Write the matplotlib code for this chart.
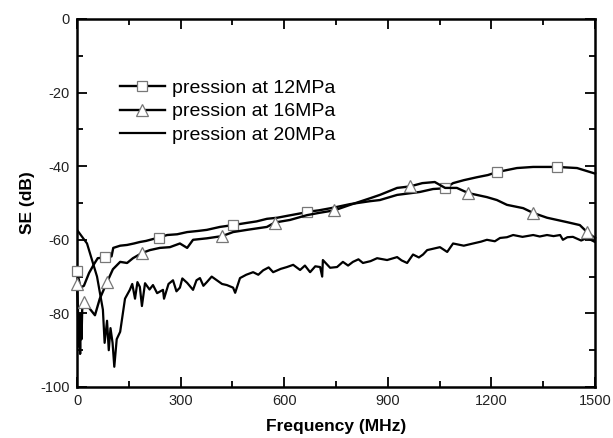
import numpy as np
import matplotlib
matplotlib.use("Agg")
import matplotlib.pyplot as plt
from matplotlib.ticker import MultipleLocator

plt.rcParams['font.family'] = ['Liberation Sans', 'DejaVu Sans']
plt.rcParams['axes.unicode_minus'] = False

# ---------------- data ----------------
freq_12 = [0, 10, 20, 35, 50, 60, 80, 100, 105, 125, 145, 165, 182, 200, 220, 237, 261, 290,
           319, 350, 376, 414, 452, 492, 520, 550, 580, 608, 654, 666, 700, 741, 791, 849,
           877, 927, 993, 1031, 1066, 1089, 1120, 1158, 1190, 1216, 1274, 1321, 1390, 1448,
           1500]
se_12 = [-68.5, -73, -72.5, -69, -66.5, -65, -64.8, -64.5, -62.2, -61.6, -61.4, -61.0,
         -60.6, -60.3, -59.8, -59.4, -58.7, -58.5, -57.9, -57.6, -57.3, -56.5, -56, -55.4,
         -55.0, -54.3, -54.0, -53.5, -52.7, -52.4, -52, -51.3, -50.3, -49.5, -49.2, -47.8,
         -47, -46.2, -46, -44.6, -43.8, -43, -42.4, -41.6, -40.5, -40.2, -40.2, -40.5, -42]
marks_12 = [0, 80, 237, 452, 666, 1066, 1216, 1390]

freq_16 = [0, 3, 5, 7, 9, 11, 13, 15, 20, 35, 52, 66, 87, 104, 125, 145, 162, 188, 211, 240,
           269, 298, 319, 336, 376, 420, 452, 492, 550, 573, 617, 666, 700, 745, 791, 849,
           877, 927, 964, 1000, 1036, 1066, 1100, 1133, 1187, 1216, 1245, 1292, 1321, 1361,
           1419, 1456, 1477, 1500]
se_16 = [-72, -80, -89, -81, -91, -80, -87, -79, -77, -78.5, -80.5, -76, -71.5, -68, -66,
         -66.3, -65, -63.6, -62.8, -62.2, -62, -61, -62.2, -60, -59.6, -59, -57.9, -57.3,
         -56.5, -55.3, -54.6, -53.3, -52.7, -52, -50.5, -48.7, -47.8, -45.9, -45.5, -44.6,
         -44.3, -45.9, -45.9, -47.3, -48.4, -49.2, -50.5, -51.4, -52.7, -54, -55.2, -56,
         -57.9, -59.5]
marks_16 = [0, 20, 87, 188, 420, 573, 745, 964, 1133, 1321, 1477]

freq_20 = [0, 29, 58, 75, 80, 87, 92, 97, 103, 108, 115, 125, 139, 153, 160, 168, 175, 182,
           188, 197, 210, 220, 232, 249, 252, 265, 278, 288, 298, 305, 319, 336, 346, 356,
           366, 376, 390, 405, 420, 434, 452, 458, 472, 490, 510, 525, 539, 555, 568, 590,
           608, 626, 646, 660, 675, 690, 704, 710, 712, 733, 753, 770, 785, 799, 815, 828,
           850, 869, 898, 927, 940, 956, 973, 990, 1002, 1014, 1051, 1072, 1089, 1120, 1147,
           1170, 1187, 1210, 1225, 1245, 1263, 1290, 1321, 1340, 1361, 1380, 1399, 1407,
           1420, 1436, 1460, 1477, 1500]
se_20 = [-57.3, -61, -70, -79, -88, -82, -90, -84, -88, -94.5, -87, -85, -76, -73.6, -72,
         -76, -71.5, -72.8, -78, -71.8, -73.5, -72.3, -74.5, -73.6, -76, -72, -71, -74,
         -73, -70.5, -71.7, -73.6, -71, -70.4, -72.5, -71.5, -70, -71, -72, -72.3, -73,
         -74.4, -70.4, -69.5, -68.8, -69.5, -68.3, -67.5, -68.8, -67.9, -67.4, -66.8, -68.2,
         -67, -68.8, -67.2, -67.4, -70, -65.5, -67.6, -67.4, -66, -67, -66, -65.3, -66.3,
         -65.8, -65, -65.5, -64.7, -65.6, -66.3, -64, -64.8, -64, -62.8, -62, -63.3, -61,
         -61.6, -61, -60.5, -60, -60.4, -59.5, -59.3, -58.7, -59.2, -58.7, -59.1, -58.7,
         -59.0, -58.7, -60, -59.3, -59.2, -60.2, -59.5, -60.6]

labels = ["pression at 12MPa", "pression at 16MPa", "pression at 20MPa"]
x_ticks = [0, 300, 600, 900, 1200, 1500]
y_ticks = [0, -20, -40, -60, -80, -100]

# ---------------- figure ----------------
fig = plt.figure(figsize=(6.13, 4.38), dpi=100)
ax = fig.add_axes([77/613, 1-387/438, (595-77)/613, (387-19)/438])

def idx(freqs, marks):
    return [freqs.index(m) for m in marks]

ax.plot(freq_12, se_12, color='black', lw=1.7, marker='s', markersize=7.5,
        markerfacecolor='white', markeredgecolor='#777777', markeredgewidth=0.9,
        markevery=idx(freq_12, marks_12), label=labels[0], clip_on=False, zorder=3)
ax.plot(freq_16, se_16, color='black', lw=1.7, marker='^', markersize=9,
        markerfacecolor='white', markeredgecolor='#777777', markeredgewidth=0.9,
        markevery=idx(freq_16, marks_16), label=labels[1], clip_on=False, zorder=3)
ax.plot(freq_20, se_20, color='black', lw=1.6, label=labels[2], zorder=2)

ax.set_xlim(0, 1500)
ax.set_ylim(-100, 0)
ax.set_xticks(x_ticks)
ax.set_yticks(y_ticks)
ax.xaxis.set_minor_locator(MultipleLocator(150))
ax.yaxis.set_minor_locator(MultipleLocator(10))
ax.tick_params(which='both', direction='in', top=True, right=True, width=1.3,
               labelsize=10.5, labelcolor='#222222', pad=5)
ax.tick_params(which='major', length=7)
ax.tick_params(which='minor', length=4.5)
for s in ax.spines.values():
    s.set_linewidth(1.8)

ax.set_xlabel("Frequency (MHz)", fontsize=12.5, fontweight='bold', labelpad=8)
ax.set_ylabel("SE (dB)", fontsize=12.5, fontweight='bold', labelpad=4)

leg = ax.legend(loc='upper left', bbox_to_anchor=(0.083, 0.837), frameon=False,
                fontsize=14, handlelength=2.3, handletextpad=0.35, labelspacing=0.32,
                borderpad=0, borderaxespad=0)

fig.savefig("out.png", dpi=100)
